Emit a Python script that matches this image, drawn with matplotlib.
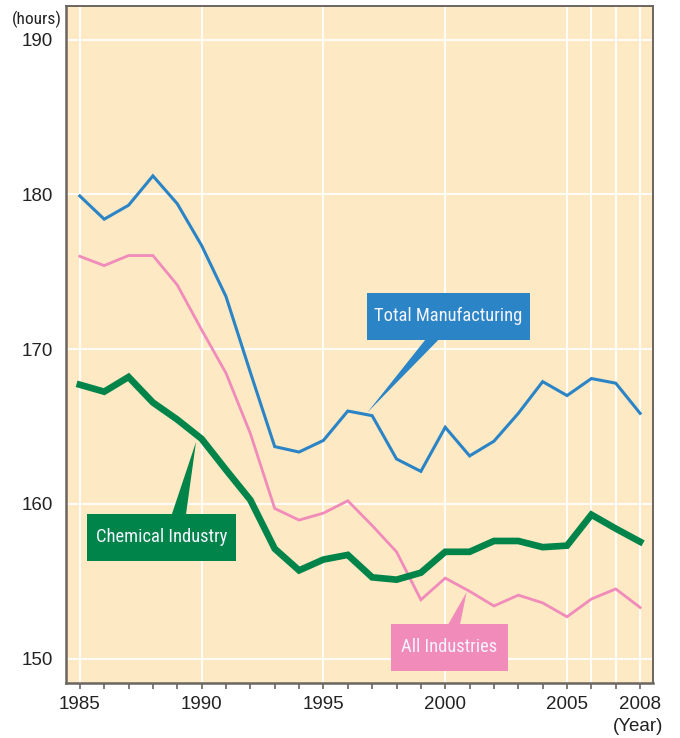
import matplotlib
matplotlib.use('Agg')
import matplotlib.pyplot as plt
from matplotlib.patches import Rectangle, Polygon

# monthly working hours (hours)
years = list(range(1985, 2009))
total_manufacturing = [179.9, 178.4, 179.3, 181.2, 179.4, 176.7, 173.4, 168.5, 163.7, 163.35,
                       164.1, 166.0, 165.7, 162.9, 162.1, 164.95, 163.1, 164.05, 165.85, 167.9,
                       167.0, 168.1, 167.8, 165.85]
all_industries = [176.0, 175.4, 176.05, 176.05, 174.15, 171.25, 168.45, 164.55, 159.7, 158.95,
                  159.4, 160.2, 158.6, 156.9, 153.8, 155.2, 154.35, 153.4, 154.1, 153.6,
                  152.7, 153.85, 154.5, 153.3]
chemical_industry = [167.7, 167.25, 168.2, 166.55, 165.45, 164.2, 162.2, 160.25, 157.1, 155.7,
                     156.4, 156.7, 155.25, 155.1, 155.55, 156.9, 156.9, 157.6, 157.6, 157.2,
                     157.3, 159.3, 158.4, 157.55]

x_labels = ['1985', '1990', '1995', '2000', '2005', '2008']
y_ticks = [150, 160, 170, 180, 190]
grid_years = [1985, 1990, 1995, 2000, 2005, 2006, 2007, 2008]

c_blue = '#2a84c6'
c_pink = '#f08bba'
c_green = '#00844a'
c_bg = '#fde9c4'
c_spine = '#6b6560'

fig = plt.figure(figsize=(6.8, 7.38), dpi=100)
ax = fig.add_axes([0.0966, 0.0741, 0.8641, 0.9182])
ax.set_facecolor(c_bg)

ax.set_xlim(1984.42, 2008.54)
ax.set_ylim(148.4, 192.2)

# grid
for g in grid_years:
    ax.axvline(g, color='white', lw=1.3, zorder=1)
for g in y_ticks:
    ax.axhline(g, color='white', lw=1.3, zorder=1)

ax.plot(years, total_manufacturing, color=c_blue, lw=2.2, zorder=3, solid_joinstyle='miter')
ax.plot(years, all_industries, color=c_pink, lw=2.0, zorder=3, solid_joinstyle='miter')
ax.plot(years, chemical_industry, color=c_green, lw=4.8, zorder=4, solid_joinstyle='miter')

# ticks
tick_font = {'family': ['Liberation Sans', 'DejaVu Sans'], 'size': 13.5}
ax.set_xticks(years)
ax.set_xticklabels([str(y) if str(y) in x_labels else '' for y in years], fontdict=tick_font,
                   color='#222222')
ax.tick_params(axis='x', direction='out', length=4.5, width=1.2, color=c_spine, pad=4.5)
ax.set_yticks(y_ticks)
ax.set_yticklabels([str(v) for v in y_ticks], fontdict=tick_font, color='#222222')
ax.tick_params(axis='y', length=0, pad=9)

for s in ['left', 'bottom']:
    ax.spines[s].set_color(c_spine)
    ax.spines[s].set_linewidth(1.8)
for s in ['top', 'right']:
    ax.spines[s].set_color(c_spine)
    ax.spines[s].set_linewidth(1.4)

narrow = ['Roboto Condensed', 'Liberation Sans Narrow', 'Roboto', 'DejaVu Sans']
fig.text(0.054, 0.974, '(hours)', ha='center', va='center', fontsize=12.5,
         family=narrow, color='#222222')
fig.text(0.939, 0.0155, '(Year)', ha='center', va='center', fontsize=13.5,
         family=['Liberation Sans', 'DejaVu Sans'], color='#222222')


# callout boxes: box (x0, x1, y0, y1), pointer base (xa, xb, y), tip (x, y)
def callout(text, color, box, base, tip):
    x0, x1, y0, y1 = box
    ax.add_patch(Rectangle((x0, y0), x1 - x0, y1 - y0, facecolor=color, edgecolor='none',
                           zorder=6))
    ax.add_patch(Polygon([(base[0], base[2]), (base[1], base[2]), tip], closed=True,
                         facecolor=color, edgecolor='none', zorder=6))
    ax.text((x0 + x1) / 2, (y0 + y1) / 2, text, ha='center', va='center', color='#f4f4ff',
            fontsize=13.3, family=narrow, zorder=7)


callout('Total Manufacturing', c_blue, (1996.77, 2003.48, 170.6, 173.65),
        (1999.18, 1999.72, 170.6), (1996.8, 165.9))
callout('Chemical Industry', c_green, (1985.31, 1991.43, 156.32, 159.34),
        (1988.78, 1989.36, 159.34), (1989.77, 164.0))
callout('All Industries', c_pink, (1997.77, 2002.56, 149.2, 152.23),
        (2000.13, 2000.61, 152.23), (2000.88, 154.3))

fig.savefig('out.png', dpi=100)
